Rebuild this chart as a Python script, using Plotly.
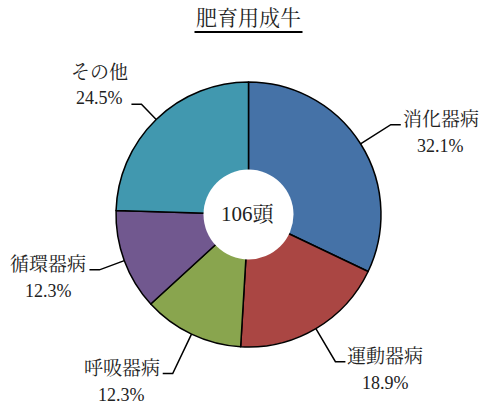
import math
import plotly.graph_objects as go

# ---- data ----
categories = ["消化器病", "運動器病", "呼吸器病", "循環器病", "その他"]
counts = [34, 20, 13, 13, 26]
colors = ["#4572A7", "#AA4643", "#89A54E", "#71588F", "#4198AF"]
title_text = "肥育用成牛"
center_unit = "頭"

# ---- layout geometry (pixels) ----
W, H = 482, 407
CX, CY, R = 248.5, 214.5, 132.5
HOLE_R = 45
leader_factor = [1.27, 1.29, 1.33, 1.2, 1.16]
FS_NAME = 19
FS_PCT = 18
FONT = "Liberation Serif, Noto Serif CJK JP, Noto Sans CJK JP"


def px(x):
    return x / W


def py(y):
    return 1 - y / H


total = sum(counts)
fig = go.Figure(go.Pie(
    labels=categories, values=counts, sort=False, direction="clockwise",
    rotation=0, hole=0, textinfo="none", hoverinfo="label+percent",
    marker=dict(colors=colors, line=dict(color="black", width=1.5)),
    domain=dict(x=[px(CX - R), px(CX + R)], y=[py(CY + R), py(CY - R)]),
    showlegend=False,
))

shapes = []
annotations = []
cum = 0
for i, (name, v) in enumerate(zip(categories, counts)):
    mid = (cum + v / 2) / total * 2 * math.pi
    cum += v
    sx, sy = math.sin(mid), -math.cos(mid)
    ex, ey = CX + R * sx, CY + R * sy
    f = leader_factor[i]
    bx, by = CX + R * f * sx, CY + R * f * sy
    right = sx >= 0
    endx = bx + (10 if right else -10)
    shapes.append(dict(
        type="path", xref="paper", yref="paper",
        path=f"M {px(ex)},{py(ey)} L {px(bx)},{py(by)} L {px(endx)},{py(by)}",
        line=dict(color="black", width=1.5)))
    text_w = len(name) * FS_NAME
    if right:
        left = endx + 2
    else:
        left = endx - 3 - text_w
    upper_left = (not right) and sy < 0
    name_y = by - 32 if upper_left else by - 5
    pct = f"{v / total * 100:.1f}%"
    annotations.append(dict(
        x=px(left + text_w / 2), y=py(name_y), xref="paper", yref="paper",
        text=name, showarrow=False, xanchor="center", yanchor="middle",
        font=dict(size=FS_NAME, color="#222", family=FONT)))
    annotations.append(dict(
        x=px(left + text_w / 2), y=py(name_y + 26), xref="paper", yref="paper",
        text=pct, showarrow=False, xanchor="center", yanchor="middle",
        font=dict(size=FS_PCT, color="#222", family=FONT)))

# white hole without outline
shapes.append(dict(type="circle", xref="paper", yref="paper", layer="above",
                   x0=px(CX - HOLE_R), x1=px(CX + HOLE_R),
                   y0=py(CY + HOLE_R), y1=py(CY - HOLE_R),
                   fillcolor="white", line=dict(width=0)))
annotations.append(dict(
    x=px(CX), y=py(CY), xref="paper", yref="paper",
    text=f"{total}{center_unit}", showarrow=False, xanchor="center", yanchor="middle",
    font=dict(size=21, color="#222", family=FONT)))

# title with underline
annotations.append(dict(
    x=px(CX), y=py(18), xref="paper", yref="paper",
    text=title_text, showarrow=False, xanchor="center", yanchor="middle",
    font=dict(size=21, color="#222", family=FONT)))
shapes.append(dict(type="line", xref="paper", yref="paper",
                   x0=px(CX - 54), x1=px(CX + 54), y0=py(32), y1=py(32),
                   line=dict(color="black", width=2)))

fig.update_layout(
    width=W, height=H, margin=dict(l=0, r=0, t=0, b=0),
    paper_bgcolor="white", plot_bgcolor="white",
    shapes=shapes, annotations=annotations,
)
fig.write_html("out.html", config={"displayModeBar": False},
               post_script="document.body.style.margin='0';document.body.style.overflow='hidden';")
